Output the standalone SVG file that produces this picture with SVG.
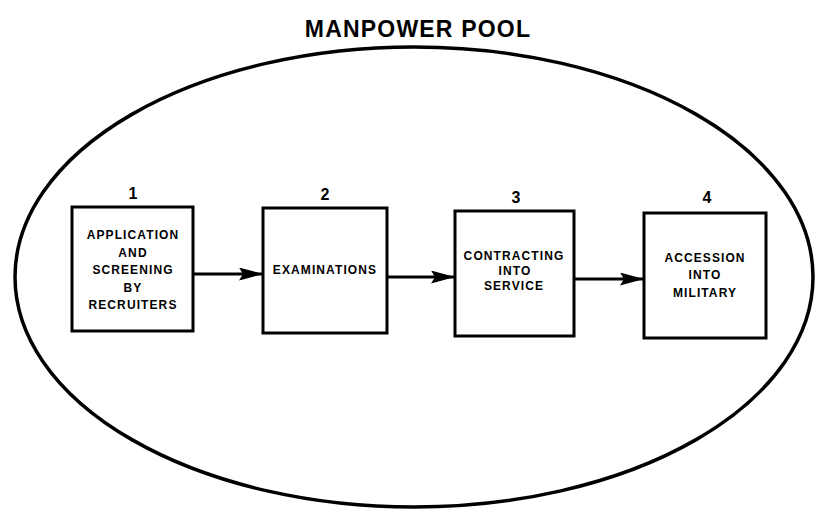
<svg xmlns="http://www.w3.org/2000/svg" width="815" height="511" viewBox="0 0 815 511">
  <style>
    .pool { fill: none; stroke: #000; stroke-width: 3.5; }
    .box { fill: #fff; stroke: #000; stroke-width: 3; }
    .lbl { font-family: "Liberation Sans", Arial, sans-serif; font-weight: bold; font-size: 12px; letter-spacing: 1.1px; text-anchor: middle; fill: #000; }
    .num { font-family: "Liberation Sans", Arial, sans-serif; font-weight: bold; font-size: 16px; text-anchor: middle; fill: #000; }
    .title { font-family: "Liberation Sans", Arial, sans-serif; font-weight: bold; font-size: 23px; letter-spacing: 1.2px; text-anchor: middle; fill: #000; }
    .conn { stroke: #000; stroke-width: 3; fill: none; }
  </style>
  <defs>
    <marker id="arrow" markerWidth="24" markerHeight="13" refX="24" refY="6.5" orient="auto" markerUnits="userSpaceOnUse">
      <path d="M0,0 L24,6.5 L0,13 L4,6.5 Z" fill="#000"/>
    </marker>
  </defs>
  <rect width="815" height="511" fill="#fff"/>

  <!-- pool boundary and title -->
  <g id="pool">
    <ellipse class="pool" cx="414" cy="277" rx="399" ry="230"/>
    <text class="title" x="418" y="37">MANPOWER POOL</text>
  </g>

  <!-- step connectors -->
  <g id="connectors">
    <line class="conn" x1="193" y1="274" x2="263" y2="274" marker-end="url(#arrow)"/>
    <line class="conn" x1="387" y1="277" x2="455" y2="277" marker-end="url(#arrow)"/>
    <line class="conn" x1="574" y1="279" x2="644" y2="279" marker-end="url(#arrow)"/>
  </g>

  <g id="step1">
    <text class="num" x="133" y="199">1</text>
    <rect class="box" x="72" y="207" width="121" height="124"/>
    <text class="lbl" x="133" y="239">APPLICATION</text>
    <text class="lbl" x="133" y="257">AND</text>
    <text class="lbl" x="133" y="274">SCREENING</text>
    <text class="lbl" x="133" y="292">BY</text>
    <text class="lbl" x="133" y="309">RECRUITERS</text>
  </g>

  <g id="step2">
    <text class="num" x="325" y="200">2</text>
    <rect class="box" x="263" y="208" width="124" height="125"/>
    <text class="lbl" x="325" y="274">EXAMINATIONS</text>
  </g>

  <g id="step3">
    <text class="num" x="516" y="203">3</text>
    <rect class="box" x="455" y="211" width="119" height="125"/>
    <text class="lbl" x="514" y="260">CONTRACTING</text>
    <text class="lbl" x="515" y="275">INTO</text>
    <text class="lbl" x="514" y="290">SERVICE</text>
  </g>

  <g id="step4">
    <text class="num" x="707" y="203">4</text>
    <rect class="box" x="644" y="213" width="122" height="125"/>
    <text class="lbl" x="705" y="262">ACCESSION</text>
    <text class="lbl" x="705" y="279">INTO</text>
    <text class="lbl" x="705" y="297">MILITARY</text>
  </g>
</svg>
